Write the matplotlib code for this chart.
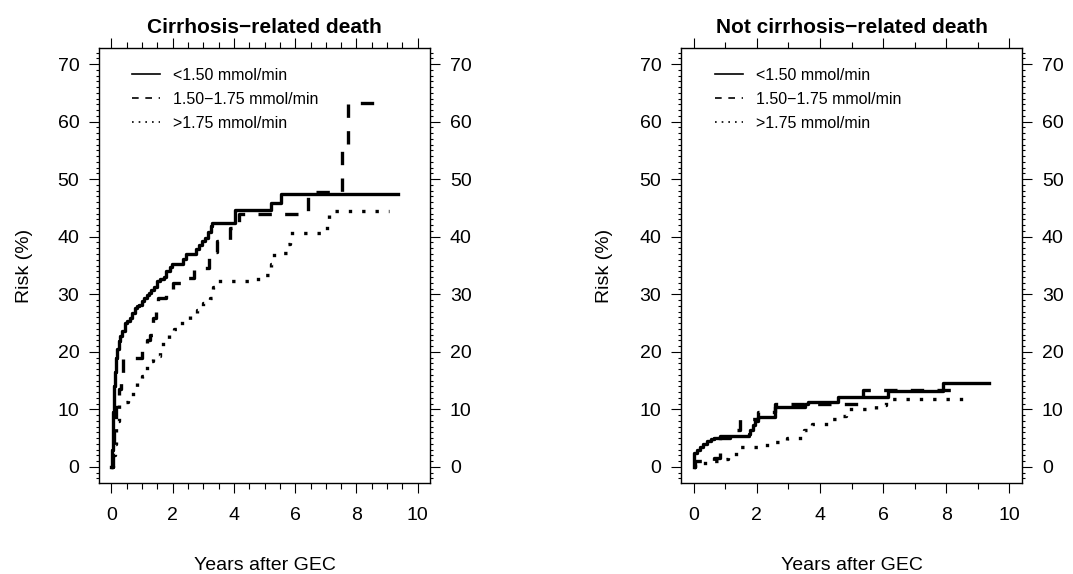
import matplotlib
matplotlib.use('Agg')
import matplotlib.pyplot as plt
from matplotlib.lines import Line2D
from matplotlib.ticker import MultipleLocator

plt.rcParams['font.family'] = ['Liberation Sans', 'DejaVu Sans']

# Cumulative risk (%) by GEC group
# Panel 1: cirrhosis-related death
cir_low_t = [0.00, 0.02, 0.04, 0.06, 0.08, 0.10, 0.13, 0.16, 0.20, 0.25, 0.30, 0.36, 0.44, 0.52,
             0.60, 0.68, 0.76, 0.84, 0.92, 1.00, 1.07, 1.15, 1.23, 1.31, 1.39, 1.49, 1.60, 1.71,
             1.80, 1.92, 1.99, 2.35, 2.44, 2.75, 2.85, 2.95, 3.05, 3.15, 3.26, 3.30, 4.03, 5.20,
             5.55, 9.37]
cir_low_y = [0.0, 3.0, 6.5, 9.5, 12.0, 14.0, 16.5, 19.0, 20.5, 21.8, 22.8, 23.6, 25.0, 25.4,
             25.9, 26.7, 27.6, 28.0, 28.2, 28.8, 29.4, 29.8, 30.2, 30.8, 31.3, 32.3, 32.6, 33.0,
             34.0, 34.8, 35.3, 36.2, 37.0, 37.8, 38.5, 39.2, 39.7, 40.8, 41.8, 42.4, 44.7, 45.9,
             47.4, 47.4]

cir_mid_t = [0.00, 0.05, 0.10, 0.16, 0.25, 0.33, 0.38, 1.00, 1.15, 1.26, 1.37, 1.45, 1.53, 1.80,
             2.00, 2.30, 2.70, 3.20, 3.45, 3.88, 4.16, 6.42, 7.53, 7.72, 8.63]
cir_mid_y = [0.0, 4.0, 8.0, 11.5, 13.5, 15.5, 19.0, 21.0, 22.0, 23.0, 25.9, 27.5, 29.3, 30.5,
             31.9, 32.9, 34.5, 37.4, 39.2, 41.6, 43.9, 47.7, 55.3, 63.3, 63.3]

cir_high_t = [0.00, 0.05, 0.11, 0.16, 0.26, 0.53, 0.84, 1.00, 1.10, 1.26, 1.37, 1.58, 1.68, 1.89,
              2.05, 2.32, 2.58, 2.79, 3.00, 3.21, 3.32, 3.42, 4.79, 5.21, 5.32, 5.74, 5.84, 7.05,
              7.10, 9.05]
cir_high_y = [0.0, 2.0, 4.0, 8.0, 11.2, 12.6, 14.7, 15.8, 17.2, 18.4, 19.3, 20.7, 21.8, 23.0,
              23.9, 25.6, 26.4, 27.3, 28.4, 29.3, 31.3, 32.3, 33.3, 35.3, 37.1, 38.8, 40.7, 42.4,
              44.4, 44.4]

# Panel 2: not cirrhosis-related death
oth_low_t = [0.00, 0.02, 0.10, 0.21, 0.30, 0.42, 0.55, 0.63, 0.84, 1.74, 1.80, 1.88, 1.95, 2.05,
             2.58, 3.53, 3.63, 4.58, 6.16, 7.89, 9.35]
oth_low_y = [0.0, 2.5, 3.0, 3.4, 3.9, 4.5, 4.9, 5.1, 5.4, 5.8, 6.5, 7.3, 8.0, 8.7,
             10.4, 11.0, 11.3, 12.1, 13.2, 14.6, 14.6]

oth_mid_t = [0.00, 0.03, 0.65, 0.84, 1.16, 1.47, 2.05, 2.58, 5.37, 8.53]
oth_mid_y = [0.0, 1.0, 1.5, 5.1, 6.4, 8.3, 9.6, 11.0, 13.3, 13.3]

oth_high_t = [0.00, 0.05, 0.60, 0.95, 1.10, 1.42, 2.32, 2.95, 3.50, 3.74, 4.37, 4.63, 4.84, 5.79,
              6.10, 8.74]
oth_high_y = [0.0, 0.6, 1.0, 1.3, 2.3, 3.4, 4.3, 5.1, 6.4, 7.4, 8.3, 8.9, 10.1, 10.7, 11.8, 11.8]

group_labels = ['<1.50 mmol/min', '1.50\u22121.75 mmol/min', '>1.75 mmol/min']
panel_titles = ['Cirrhosis\u2212related death', 'Not cirrhosis\u2212related death']

styles = ['-', (0, (4, 4)), (0, (1, 3))]

fig = plt.figure(figsize=(10.73, 5.74), dpi=100)
ax1 = fig.add_axes([0.0923, 0.1585, 0.3085, 0.7579])
ax2 = fig.add_axes([0.6347, 0.1585, 0.3178, 0.7579])

panels = [
    (ax1, [(cir_low_t, cir_low_y), (cir_mid_t, cir_mid_y), (cir_high_t, cir_high_y)], 0.5),
    (ax2, [(oth_low_t, oth_low_y), (oth_mid_t, oth_mid_y), (oth_high_t, oth_high_y)], 1.0),
]

for i, (ax, curves, xminor) in enumerate(panels):
    for (t, y), ls in zip(curves, styles):
        ax.plot(t, y, drawstyle='steps-post', color='black', linestyle=ls, linewidth=2.4)

    ax.set_xlim(-0.4, 10.4)
    ax.set_ylim(-2.8, 72.8)
    ax.xaxis.set_major_locator(MultipleLocator(2))
    ax.xaxis.set_minor_locator(MultipleLocator(xminor))
    ax.yaxis.set_major_locator(MultipleLocator(10))
    ax.yaxis.set_minor_locator(MultipleLocator(1))

    ax.tick_params(which='both', direction='out', top=True, right=True,
                   labelright=True, labeltop=False, width=0.8, labelsize=14)
    ax.tick_params(which='major', length=7.2)
    ax.tick_params(axis='x', which='major', pad=10)
    ax.tick_params(axis='y', which='major', pad=7)
    ax.tick_params(axis='x', which='minor', length=4.3)
    ax.tick_params(axis='y', which='minor', length=2.5)
    for sp in ax.spines.values():
        sp.set_linewidth(1.0)

    ax.set_title(panel_titles[i], fontsize=15, fontweight='bold', y=1.0, pad=11)
    ax.set_xlabel('Years after GEC', fontsize=14)
    ax.set_ylabel('Risk (%)', fontsize=14)
    ax.xaxis.set_label_coords(0.5, -0.17)
    ax.yaxis.set_label_coords(-0.2, 0.5)

    handles = [Line2D([], [], color='black', linestyle=ls, linewidth=1.2) for ls in styles]
    ax.legend(handles, group_labels, loc='upper left', bbox_to_anchor=(0.1, 0.955),
              frameon=False, fontsize=11.5, borderaxespad=0, borderpad=0,
              handlelength=1.75, handletextpad=0.8, labelspacing=0.57)

fig.savefig('out.png', dpi=100)
